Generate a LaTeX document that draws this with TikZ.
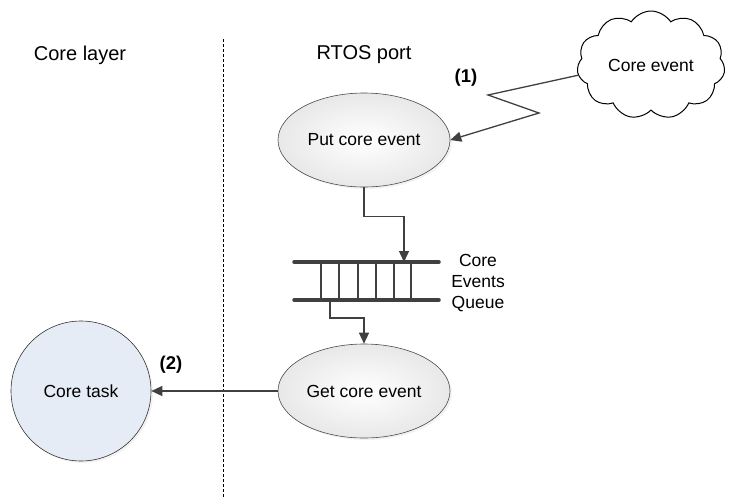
\documentclass[tikz,border=0pt]{standalone}
\usepackage{fontspec}
\setmainfont{Liberation Sans}
\usetikzlibrary{shapes.geometric,shapes.symbols,arrows.meta,shadows}

\begin{document}
\begin{tikzpicture}[x=1pt,y=-1pt,
  every node/.style={font=\fontsize{17.5}{21}\selectfont},
  title/.style={font=\fontsize{20}{24}\selectfont},
  step label/.style={font=\fontsize{18.5}{22}\selectfont\bfseries},
  evbox/.style={ellipse,draw=black!70,line width=0.6pt,minimum width=172pt,minimum height=94pt,
    inner sep=0pt,inner color=white,outer color=black!9,
    drop shadow={opacity=0.1,shadow xshift=2pt,shadow yshift=-2pt}},
  flow/.style={draw=black!75,line width=1.3pt,-{Triangle[length=11pt,width=10pt]}},
  qbar/.style={line width=3.5pt,black!75,line cap=round},
  qrung/.style={line width=1.1pt,black!75}]

\useasboundingbox (0,0) rectangle (729,498);

% layer titles and the separating line
\node [title] (corelayer) at (80,55) {Core layer};
\node [title] (rtosport) at (364,55) {RTOS port};
\draw [dashed,dash pattern=on 3pt off 2pt,line width=0.6pt] (223,39) -- (223,497);

% nodes
\node [cloud,draw,line width=1pt,cloud puffs=11,cloud puff arc=115,aspect=1.35,
  minimum width=148pt,minimum height=108pt,inner sep=0pt] (cloud) at (651,65) {Core event};
\node [evbox] (put) at (364,140) {Put core event};
\node [evbox] (get) at (364,391) {Get core event};
\node [circle,draw=black!80,line width=0.6pt,fill={rgb,255:red,230;green,236;blue,246},
  minimum size=140pt,inner sep=0pt,
  drop shadow={opacity=0.1,shadow xshift=2pt,shadow yshift=-2pt}] (coretask) at (81,391) {Core task};

% the queue
\draw [qbar] (294,262) -- (439,262);
\draw [qbar] (294,300) -- (439,300);
\foreach \x in {321,339,358,376,394,411} {
    \draw [qrung] (\x,262) -- (\x,300);
}
\coordinate (qin) at (404,262);
\coordinate (qout) at (330,300);
\node [align=center,inner sep=0pt] (qlabel) at (478,283) {Core\\Events\\Queue};

% connectors
\coordinate (zig1) at (488,95);
\coordinate (zig2) at (539,113);
\draw [flow] (cloud.188) -- (zig1) -- (zig2) -- (put.east);
\node [step label] (one) at (466,78) {(1)};

\draw [flow] (put.south) -- ++(0,29) -| (qin);
\draw [flow] (qout) -- ++(0,18) -| (get.north);

\draw [flow] (get.west) -- (coretask.east);
\node [step label] (two) at (171,365) {(2)};

\end{tikzpicture}
\end{document}
